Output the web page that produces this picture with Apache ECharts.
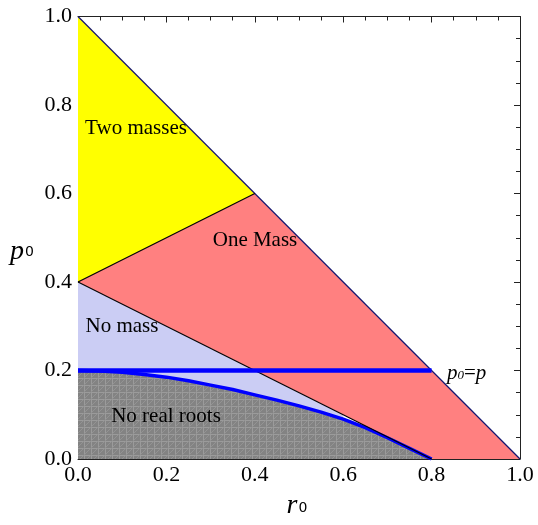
<!DOCTYPE html>
<html>
<head>
<meta charset="utf-8">
<script src="https://cdn.jsdelivr.net/npm/echarts@6/dist/echarts.min.js"></script>
<style>
html,body{margin:0;padding:0;background:#fff;}
#chart{width:538px;height:525px;}
</style>
</head>
<body>
<div id="chart"></div>
<script>
// ---- data ----
const xTickLabels = ['0.0', '0.2', '0.4', '0.6', '0.8', '1.0'];
const yTickLabels = ['0.0', '0.2', '0.4', '0.6', '0.8', '1.0'];

// boundary of "No real roots" region (r0, p0)
const curveR = [0, 0.05, 0.1, 0.15, 0.2, 0.25, 0.3, 0.35, 0.4, 0.45, 0.5, 0.55, 0.6, 0.65, 0.7, 0.75, 0.8];
const curveP = [0.2, 0.199, 0.196, 0.191, 0.185, 0.177, 0.167, 0.157, 0.145, 0.133, 0.120, 0.106, 0.090, 0.071, 0.048, 0.024, 0];

const hypotenuse = [[0, 1], [1, 0]];
const upperBoundary = [[0, 0.4], [0.4, 0.6]];
const lowerBoundary = [[0, 0.4], [0.8, 0]];
const pLine = [[0, 0.2], [0.8, 0.2]];

const twoMassesRegion = [[0, 1], [0.4, 0.6], [0, 0.4]];
const oneMassRegion = [[0, 0.4], [0.4, 0.6], [1, 0], [0.8, 0]];
const noMassRegionTop = [[0, 0.4], [0.6, 0.1]];
const noRootsRegionBase = [[0, 0]];

// ---- build polygons ----
const curvePts = curveR.map((r, i) => [r, curveP[i]]);
const lavPoly = noMassRegionTop.concat(curvePts.filter(p => p[0] <= 0.6).reverse());
const grayPoly = noRootsRegionBase.concat(curvePts);

// gray hatch pattern
const pc = document.createElement('canvas');
pc.width = 7; pc.height = 7;
const g = pc.getContext('2d');
g.fillStyle = '#838383'; g.fillRect(0, 0, 7, 7);
g.strokeStyle = '#9b9b9b'; g.lineWidth = 1;
g.beginPath(); g.moveTo(0.5, 0); g.lineTo(0.5, 7); g.moveTo(0, 0.5); g.lineTo(7, 0.5); g.stroke();
g.strokeStyle = '#939393';
g.beginPath(); g.moveTo(0, 7); g.lineTo(7, 0); g.stroke();

function polySeries(pts, fill, z) {
  return {
    type: 'custom',
    coordinateSystem: 'cartesian2d',
    data: [pts[0]],
    z: z,
    silent: true,
    renderItem: function (params, api) {
      return {
        type: 'polygon',
        shape: { points: pts.map(p => api.coord(p)) },
        style: { fill: fill, stroke: null }
      };
    }
  };
}
function lineSeries(pts, color, width, z) {
  return {
    type: 'line', data: pts, symbol: 'none', z: z, silent: true,
    lineStyle: { color: color, width: width }, animation: false
  };
}

const serif = "'Liberation Serif', 'DejaVu Serif', serif";
const axisCommon = {
  type: 'value', min: 0, max: 1, interval: 0.2,
  axisLine: { show: true, onZero: false, lineStyle: { color: '#222', width: 1 } },
  axisTick: { show: true, inside: true, length: 6, lineStyle: { color: '#222' } },
  minorTick: { show: true, splitNumber: 4, length: 4, lineStyle: { color: '#222' } },
  splitLine: { show: false }
};

const chart = echarts.init(document.getElementById('chart'), null, { renderer: 'canvas' });
chart.setOption({
  animation: false,
  backgroundColor: '#fff',
  grid: { left: 78, right: 18, top: 16.5, bottom: 66, containLabel: false },
  xAxis: [
    Object.assign({}, axisCommon, {
      position: 'bottom',
      axisLabel: {
        show: true, margin: 5, color: '#000', fontSize: 22, fontFamily: serif,
        formatter: v => xTickLabels[Math.round(v / 0.2)]
      }
    }),
    Object.assign({}, axisCommon, { position: 'top', axisLabel: { show: false } })
  ],
  yAxis: [
    Object.assign({}, axisCommon, {
      position: 'left',
      axisLabel: {
        show: true, margin: 6, color: '#000', fontSize: 22, fontFamily: serif,
        formatter: v => yTickLabels[Math.round(v / 0.2)]
      }
    }),
    Object.assign({}, axisCommon, { position: 'right', axisLabel: { show: false } })
  ],
  series: [
    polySeries(twoMassesRegion, '#ffff00', 1),
    polySeries(oneMassRegion, '#ff8080', 1),
    polySeries(lavPoly, '#cbcdf4', 1),
    polySeries(grayPoly, { image: pc, repeat: 'repeat' }, 1),
    lineSeries(hypotenuse, '#14146e', 1.2, 3),
    lineSeries(upperBoundary, '#000', 1.2, 3),
    lineSeries(curvePts, '#0000ff', 3.5, 4),
    lineSeries(lowerBoundary, '#000', 1.1, 5),
    lineSeries(pLine, '#0000ff', 4.5, 6)
  ],
  graphic: [
    { type: 'text', x: 136, y: 128, style: { text: 'Two masses', font: "21px " + serif, fill: '#000', align: 'center', verticalAlign: 'middle' }, z: 10 },
    { type: 'text', x: 255, y: 240, style: { text: 'One Mass', font: "21px " + serif, fill: '#000', align: 'center', verticalAlign: 'middle' }, z: 10 },
    { type: 'text', x: 122, y: 326, style: { text: 'No mass', font: "21px " + serif, fill: '#000', align: 'center', verticalAlign: 'middle' }, z: 10 },
    { type: 'text', x: 166, y: 416, style: { text: 'No real roots', font: "21px " + serif, fill: '#000', align: 'center', verticalAlign: 'middle' }, z: 10 },
    { type: 'text', x: 447, y: 373, z: 10, style: {
      text: '{i|p}{s|0}{e|=}{i|p}', verticalAlign: 'middle', align: 'left',
      rich: {
        i: { font: "italic 21px " + serif, fill: '#000' },
        s: { font: "italic 13px " + serif, fill: '#000', padding: [6, 0, 0, 0] },
        e: { font: "21px " + serif, fill: '#000' }
      }
    } },
    { type: 'text', x: 22, y: 252, z: 10, style: {
      text: '{i|p}{s|0}', verticalAlign: 'middle', align: 'center',
      rich: {
        i: { font: "italic 28px " + serif, fill: '#000' },
        s: { font: "14px 'DejaVu Sans', sans-serif", fill: '#000', padding: [0, 0, 0, 1] }
      }
    } },
    { type: 'text', x: 297, y: 506, z: 10, style: {
      text: '{i|r}{s|0}', verticalAlign: 'middle', align: 'center',
      rich: {
        i: { font: "italic 28px " + serif, fill: '#000' },
        s: { font: "14px 'DejaVu Sans', sans-serif", fill: '#000', padding: [4, 0, 0, 1] }
      }
    } }
  ]
});
</script>
</body>
</html>
